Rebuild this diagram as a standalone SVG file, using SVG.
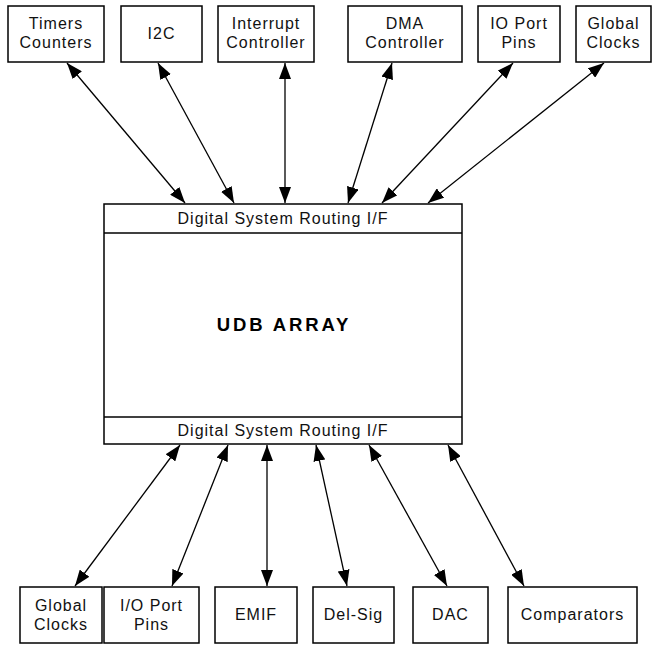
<svg xmlns="http://www.w3.org/2000/svg" width="654" height="645" viewBox="0 0 654 645">
<style>
rect{fill:#fff;stroke:#000;stroke-width:1.5}
text{font-family:"Liberation Sans",Arial,sans-serif;font-size:16px;text-anchor:middle;fill:#111;letter-spacing:1px}
.b{font-weight:bold;font-size:18.5px;letter-spacing:2.9px;fill:#000}
.c line{stroke:#000;stroke-width:1.3;marker-start:url(#a);marker-end:url(#a)}
</style>
<defs>
<marker id="a" viewBox="0 0 16 12" refX="16" refY="6" markerWidth="16" markerHeight="12" markerUnits="userSpaceOnUse" orient="auto-start-reverse">
<path d="M0,0L16,6L0,12z" fill="#000"/>
</marker>
</defs>
<g id="timers"><rect x="8" y="6" width="96" height="56"/><text x="56" y="29">Timers</text><text x="56" y="48">Counters</text></g>
<g id="i2c"><rect x="121" y="6" width="81" height="56"/><text x="161.5" y="39">I2C</text></g>
<g id="interrupt"><rect x="218" y="6" width="96" height="56"/><text x="266" y="29">Interrupt</text><text x="266" y="48">Controller</text></g>
<g id="dma"><rect x="348" y="6" width="114" height="56"/><text x="405" y="29">DMA</text><text x="405" y="48">Controller</text></g>
<g id="ioport"><rect x="478" y="6" width="82" height="56"/><text x="519" y="29">IO Port</text><text x="519" y="48">Pins</text></g>
<g id="globalclocks-top"><rect x="576" y="6" width="75" height="56"/><text x="613.5" y="29">Global</text><text x="613.5" y="48">Clocks</text></g>
<g id="udb">
<rect x="104" y="204" width="358" height="240"/>
<line x1="104" y1="233" x2="462" y2="233" stroke="#000" stroke-width="1.5"/>
<line x1="104" y1="417" x2="462" y2="417" stroke="#000" stroke-width="1.5"/>
<text x="283" y="224">Digital System Routing I/F</text>
<text class="b" x="284" y="331">UDB ARRAY</text>
<text x="283" y="436">Digital System Routing I/F</text>
</g>
<g id="globalclocks-bot"><rect x="20" y="587" width="82" height="56"/><text x="61" y="611">Global</text><text x="61" y="630">Clocks</text></g>
<g id="ioportpins"><rect x="104" y="587" width="95" height="56"/><text x="151.5" y="611">I/O Port</text><text x="151.5" y="630">Pins</text></g>
<g id="emif"><rect x="215" y="587" width="82" height="56"/><text x="256" y="620">EMIF</text></g>
<g id="delsig"><rect x="313" y="587" width="81" height="56"/><text x="353.5" y="620">Del-Sig</text></g>
<g id="dac"><rect x="413" y="587" width="75" height="56"/><text x="450.5" y="620">DAC</text></g>
<g id="comparators"><rect x="508" y="587" width="129" height="56"/><text x="572.5" y="620">Comparators</text></g>
<g class="c" id="connectors">
<line x1="67" y1="63" x2="185" y2="203"/>
<line x1="158" y1="63" x2="234" y2="203"/>
<line x1="285" y1="63" x2="285" y2="203"/>
<line x1="392" y1="63" x2="348" y2="203"/>
<line x1="513" y1="63" x2="382" y2="203"/>
<line x1="604" y1="63" x2="428" y2="203"/>
<line x1="75" y1="586" x2="180" y2="445"/>
<line x1="172" y1="586" x2="228" y2="445"/>
<line x1="267" y1="586" x2="267" y2="445"/>
<line x1="347" y1="586" x2="316" y2="445"/>
<line x1="447" y1="586" x2="369" y2="445"/>
<line x1="524" y1="586" x2="448" y2="445"/>
</g>
</svg>
